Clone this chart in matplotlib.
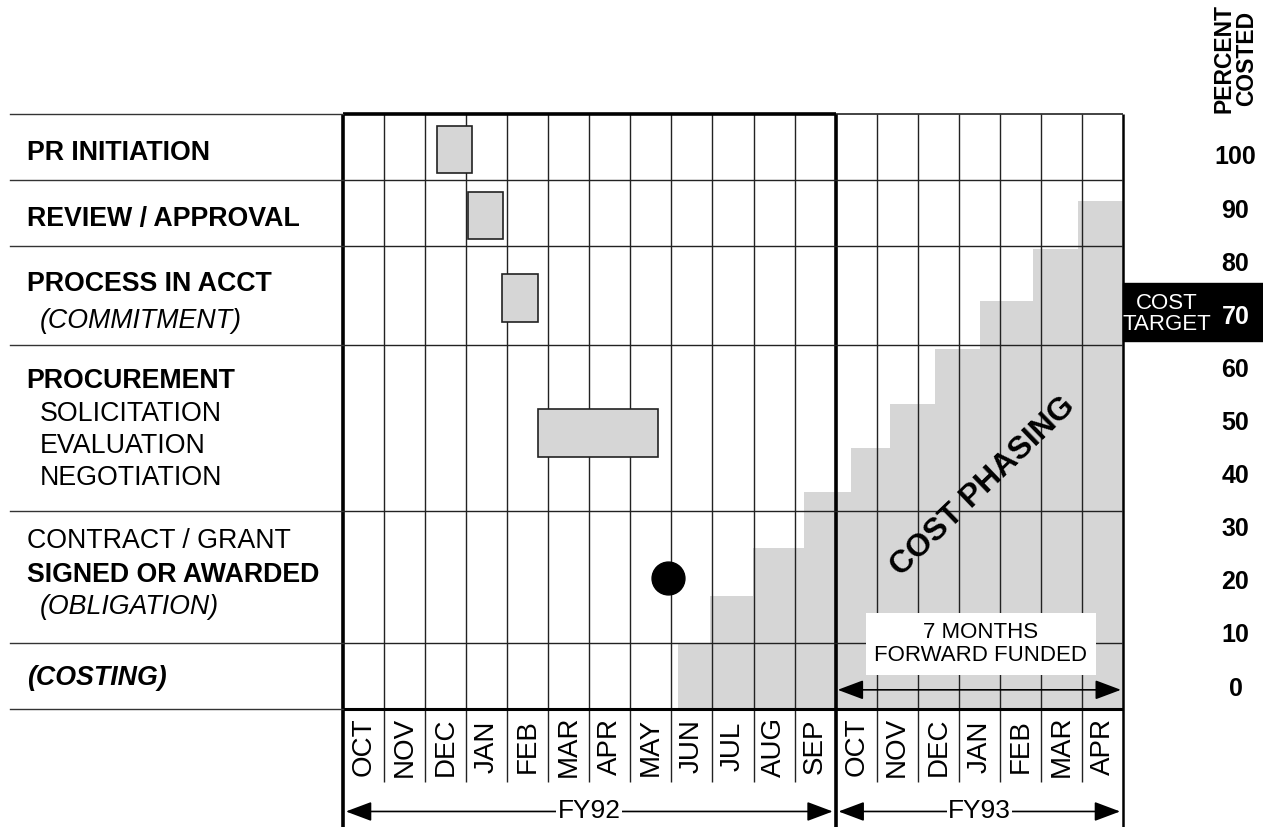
import matplotlib.pyplot as plt
import matplotlib.transforms as mtransforms
from matplotlib.patches import Rectangle

plt.rcParams['font.family'] = ['Liberation Sans', 'DejaVu Sans']

# months along the bottom (FY92 then part of FY93)
months = ['OCT', 'NOV', 'DEC', 'JAN', 'FEB', 'MAR', 'APR', 'MAY', 'JUN', 'JUL', 'AUG', 'SEP',
          'OCT', 'NOV', 'DEC', 'JAN', 'FEB', 'MAR', 'APR']

# row boundaries (in text-line units, top = 0)
row_edges = [0, 2, 4, 7, 12, 16, 18]

# left labels: text, line, indented, weight, style
labels = [
    ('PR INITIATION', 1.11, False, 'bold', 'normal'),
    ('REVIEW / APPROVAL', 3.09, False, 'bold', 'normal'),
    ('PROCESS IN ACCT', 5.07, False, 'bold', 'normal'),
    ('(COMMITMENT)', 6.17, True, 'normal', 'italic'),
    ('PROCUREMENT', 7.99, False, 'bold', 'normal'),
    ('SOLICITATION', 8.99, True, 'normal', 'normal'),
    ('EVALUATION', 9.96, True, 'normal', 'normal'),
    ('NEGOTIATION', 10.92, True, 'normal', 'normal'),
    ('CONTRACT / GRANT', 12.83, False, 'normal', 'normal'),
    ('SIGNED OR AWARDED', 13.86, False, 'bold', 'normal'),
    ('(OBLIGATION)', 14.85, True, 'normal', 'italic'),
    ('(COSTING)', 16.97, False, 'bold', 'italic'),
]

# task bars (month positions and row extents)
bar_start = [2.29, 3.04, 3.88, 4.74]
bar_end = [3.14, 3.90, 4.76, 7.67]
bar_top = [0.36, 2.35, 4.84, 8.93]
bar_bottom = [1.80, 3.79, 6.28, 10.38]

# contract awarded
award_month = 7.91
award_row = 14.03

# cost phasing staircase (percent costed)
step_edges = [8.16, 8.93, 9.98, 11.24, 12.37, 13.32, 14.41, 15.51, 16.80, 17.90, 19.0]
step_pct = [7.9, 16.9, 26.0, 36.5, 44.8, 53.1, 63.5, 72.5, 82.3, 91.3]

pct_ticks = [0, 10, 20, 30, 40, 50, 60, 70, 80, 90, 100]
cost_target = 70

W, H = 1263, 827
fig = plt.figure(figsize=(W / 100, H / 100), dpi=100)
ax = fig.add_axes([343 / W, (H - 709) / H, 780 / W, 595 / H])
ax.set_xlim(0, 19)
ax.set_ylim(18, 0)
ax2 = ax.twinx()
ax2.set_ylim(-4.33, 107.7)
ax.set_zorder(ax2.get_zorder() + 1)
ax.patch.set_visible(False)
for a in (ax, ax2):
    for s in a.spines.values():
        s.set_visible(False)

gray = '#d6d6d6'

# cost phasing fill
ax2.fill_between(step_edges, step_pct + [step_pct[-1]], ax2.get_ylim()[0],
                 step='post', color=gray, lw=0, zorder=0)

# percent axis on the right
ax2.set_yticks(pct_ticks)
ax2.set_yticklabels([str(p) for p in pct_ticks], fontsize=18, fontweight='bold', ha='center')
ax2.tick_params(axis='y', length=0, pad=81)
for p, t in zip(pct_ticks, ax2.get_yticklabels()):
    if p == cost_target:
        t.set_color('white')
fig_y = mtransforms.blended_transform_factory(fig.transFigure, ax2.transData)
ax2.add_patch(Rectangle((1123 / W, 65.0), 140 / W, 10.9, transform=fig_y,
                        color='black', clip_on=False, zorder=1))
fig.text(1167 / W, 1 - 314 / H, 'COST\nTARGET', color='white', fontsize=16,
         ha='center', va='center', linespacing=1.0, zorder=5)
fig.text(1235 / W, 1 - 113 / H, 'PERCENT\nCOSTED', rotation=90, ha='center', va='bottom',
         multialignment='center', fontsize=16.5, fontweight='bold', linespacing=1.0)

# month labels
ax.set_xticks([i + 0.5 for i in range(len(months))])
ax.set_xticklabels(months, rotation=90, fontsize=20, va='center')
ax.tick_params(axis='x', length=0, pad=27)
ax.set_yticks([])

# grid
lc = '#222222'
for m in range(1, 19):
    if m != 12:
        ax.vlines(m, 0, 20.2, color=lc, lw=1, clip_on=False)
ax.vlines([0, 12], 0, 21.6, color='black', lw=2.6, clip_on=False)
ax.vlines(19, 0, 21.6, color='black', lw=1.8, clip_on=False)
for r in row_edges[1:-1]:
    ax.hlines(r, 0, 19, color=lc, lw=1)
ax.hlines(0, 0, 12, color='black', lw=2.6, clip_on=False)
ax.hlines(0, 12, 19, color=lc, lw=1.2, clip_on=False)
ax.hlines(18, 0, 19, color='black', lw=2.2, clip_on=False)
left_tr = mtransforms.blended_transform_factory(fig.transFigure, ax.transData)
for r in row_edges:
    ax.plot([10 / W, 343 / W], [r, r], color='#333333', lw=1, transform=left_tr, clip_on=False)

# row labels (baseline placed half a cap height below the line centre)
for text, line, indent, weight, style in labels:
    x = (39.3 if indent else 26.7) / W
    ax.text(x, line + 0.29, text, transform=left_tr, fontsize=19.3, fontweight=weight,
            fontstyle=style, va='baseline', ha='left')

# task bars
ax.bar(bar_start, [b - t for b, t in zip(bar_bottom, bar_top)],
       width=[e - s for s, e in zip(bar_start, bar_end)], bottom=bar_top, align='edge',
       color=gray, edgecolor=lc, lw=1.2, zorder=3)
ax.scatter([award_month], [award_row], s=560, color='black', zorder=5)

ax.text(15.59, 11.28, 'COST PHASING', rotation=44, fontsize=23, fontweight='bold',
        ha='center', va='center', rotation_mode='anchor', zorder=4)

ax.text(15.54, 16.03, '7 MONTHS\nFORWARD FUNDED', ha='center', va='center', fontsize=16,
        linespacing=1.15, bbox=dict(fc='white', ec='none', pad=6), zorder=4)
arrow = dict(arrowstyle='<|-|>,head_length=0.8,head_width=0.3', color='black', lw=1.2,
             shrinkA=0, shrinkB=0, mutation_scale=20)
ax.annotate('', xy=(12.05, 17.42), xytext=(18.95, 17.42), arrowprops=arrow, zorder=4)

# fiscal year brackets
for x0, x1, name in [(0.07, 11.93, 'FY92'), (12.07, 18.93, 'FY93')]:
    ax.annotate('', xy=(x0, 21.1), xytext=(x1, 21.1), arrowprops=arrow,
                annotation_clip=False)
    ax.text((x0 + x1) / 2, 21.1, name, ha='center', va='center', fontsize=19,
            bbox=dict(fc='white', ec='none', pad=1), clip_on=False, zorder=5)

fig.savefig('out.png', dpi=100)
